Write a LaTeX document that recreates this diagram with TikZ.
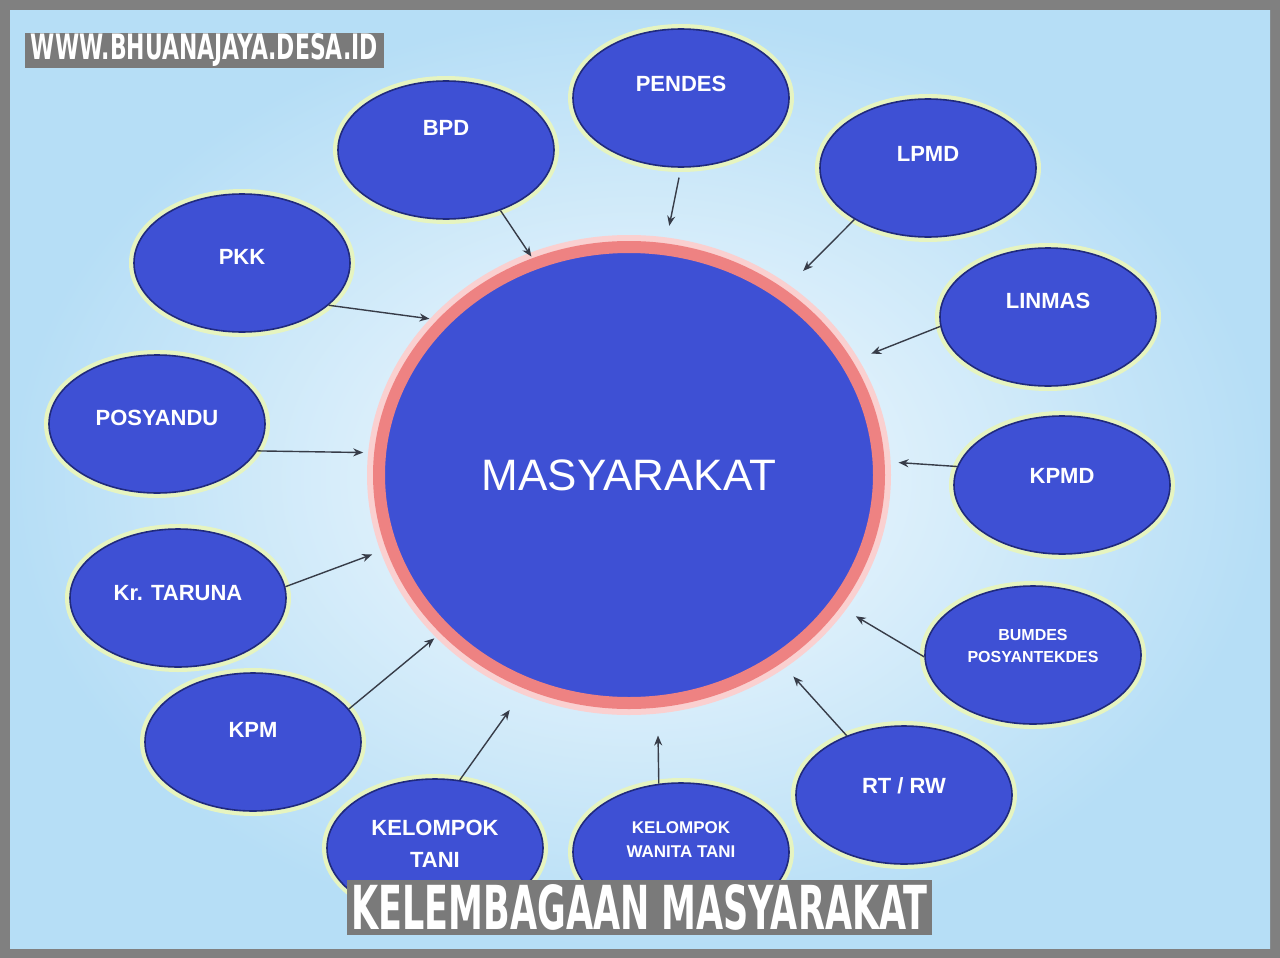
\documentclass[tikz,border=0pt]{standalone}
\usepackage{fontspec}
\setmainfont{Liberation Sans}
\newfontfamily\judulfont{DejaVu Sans}
\usepackage{graphicx}
\usetikzlibrary{shapes.geometric, arrows.meta, positioning}

\definecolor{bingkai}{RGB}{128,128,128}
\definecolor{kotakabu}{RGB}{122,122,122}
\definecolor{birulembaga}{RGB}{62,80,212}
\definecolor{garisbiru}{RGB}{32,42,125}
\definecolor{cincin}{RGB}{238,130,130}
\definecolor{cahaya}{RGB}{250,208,208}
\definecolor{langit}{RGB}{182,222,246}
\definecolor{langitmuda}{RGB}{246,251,254}
\definecolor{warnapanah}{RGB}{55,60,72}
\definecolor{kuning}{RGB}{230,244,192}

\begin{document}
\begin{tikzpicture}[
        x=0.5pt, y=-0.5pt,
        % Elips untuk tiap lembaga
        lembaga/.style={
                ellipse,
                minimum width=108pt,
                minimum height=69pt,
                inner sep=0pt,
                fill=birulembaga,
                draw=garisbiru,
                line width=0.8pt,
                preaction={draw=kuning, line width=5pt},
                text=white,
                align=center,
                font=\bfseries\fontsize{11}{16}\selectfont
            },
        % Lingkaran pusat
        pusat/.style={
                ellipse,
                minimum width=250pt,
                minimum height=228pt,
                inner sep=0pt,
                fill=birulembaga,
                draw=cincin,
                line width=6pt,
                preaction={draw=cahaya, line width=12pt},
                text=white,
                font=\fontsize{22}{26}\selectfont
            },
        % Panah
        panah/.style={
                -{Stealth[length=5pt, width=4pt]},
                line width=0.7pt,
                draw=warnapanah
            },
        % Kotak judul
        kotaklabel/.style={
                rectangle,
                fill=kotakabu,
                inner sep=0pt,
                text=white,
                font=\judulfont\bfseries
            }
    ]

    \useasboundingbox (0,0) rectangle (1280,958);

    % Latar belakang
    \fill[bingkai] (0,0) rectangle (1280,958);
    \shade[inner color=langitmuda, outer color=langit] (10,10) rectangle (1270,948);

    % Pusat
    \node[pusat] (pusat) at (629,475) {MASYARAKAT};

    % Lembaga
    \node[lembaga, text depth=14pt] (pendes) at (681,98) {PENDES};
    \node[lembaga, text depth=22pt] (bpd) at (446,150) {BPD};
    \node[lembaga, text depth=14pt] (lpmd) at (928,168) {LPMD};
    \node[lembaga, text depth=6pt] (pkk) at (242,263) {PKK};
    \node[lembaga, text depth=16pt] (linmas) at (1048,317) {LINMAS};
    \node[lembaga, text depth=6pt] (posyandu) at (157,424) {POSYANDU};
    \node[lembaga, text depth=9pt] (kpmd) at (1062,485) {KPMD};
    \node[lembaga, text depth=5pt] (taruna) at (178,598) {Kr. TARUNA};
    \node[lembaga, text depth=9pt, font=\bfseries\fontsize{8}{11}\selectfont] (bumdes) at (1033,655) {BUMDES\\POSYANTEKDES};
    \node[lembaga, text depth=12pt] (kpm) at (253,742) {KPM};
    \node[lembaga, text depth=9pt] (rtrw) at (904,795) {RT / RW};
    \node[lembaga, text depth=4pt] (kt) at (435,848) {KELOMPOK\\TANI};
    \node[lembaga, text depth=12pt, font=\bfseries\fontsize{8.5}{12}\selectfont] (kwt) at (681,852) {KELOMPOK\\WANITA TANI};

    % Panah ke pusat
    \draw[panah, shorten <=5pt, shorten >=9pt] (pendes.-90) -- (pusat.81);
    \draw[panah, shorten >=1pt] (bpd.-48) -- (pusat.114);
    \draw[panah, shorten >=13pt] (lpmd.-145) -- (pusat.50);
    \draw[panah, shorten >=4pt] (pkk.-26) -- (pusat.141);
    \draw[panah, shorten >=10pt] (linmas.185) -- (pusat.27);
    \draw[panah, shorten >=5.5pt] (posyandu.-15) -- (pusat.175);
    \draw[panah, shorten >=7pt] (kpmd.170) -- (pusat.3);
    \draw[panah, shorten >=7.5pt] (taruna.6) -- (pusat.197);
    \draw[panah, shorten >=9pt] (bumdes.181) -- (pusat.-32);
    \draw[panah, shorten >=4pt] (kpm.19) -- (pusat.220);
    \draw[panah, shorten >=9pt] (rtrw.134) -- (pusat.-51);
    \draw[panah, shorten >=13pt] (kt.70) -- (pusat.244);
    \draw[panah, shorten >=14pt] (kwt.108) -- (pusat.277);

    % Judul
    \node[kotaklabel, minimum width=179.5pt, minimum height=17.5pt] (situs) at (204.5,50.5)
        {\resizebox{173.5pt}{13pt}{\judulfont\bfseries WWW.BHUANAJAYA.DESA.ID}};
    \node[kotaklabel, minimum width=292.5pt, minimum height=27.5pt] (judul) at (639.5,907.5)
        {\resizebox{288pt}{22.5pt}{\judulfont\bfseries KELEMBAGAAN MASYARAKAT}};

\end{tikzpicture}
\end{document}
